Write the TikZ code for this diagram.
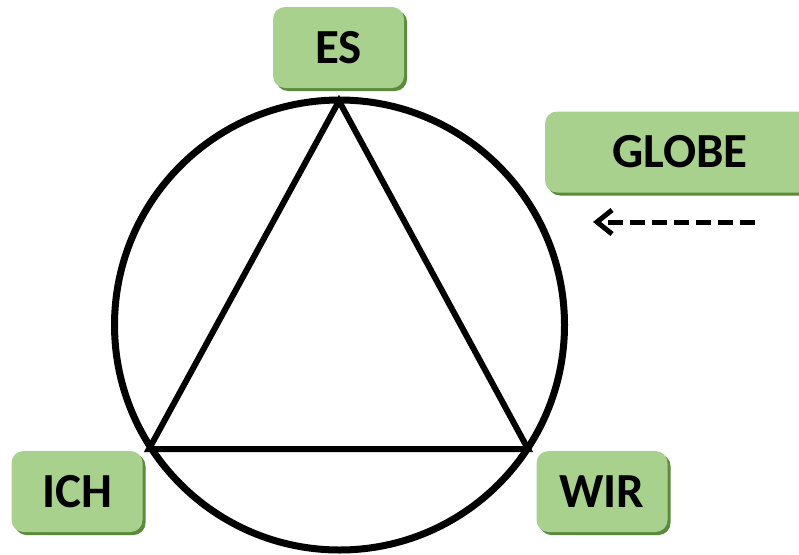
\documentclass[tikz,border=0pt]{standalone}
\usepackage{fontspec}
\setmainfont{Carlito}
\usetikzlibrary{arrows.meta,shadows}

\definecolor{kastengruen}{HTML}{A9D18E}
\definecolor{schattengruen}{HTML}{5A8A3A}

\begin{document}
\begin{tikzpicture}[
  x=1pt, y=-1pt, % Pixelkoordinaten, y nach unten
  font=\fontsize{49}{54}\bfseries\selectfont,
  kasten/.style={fill=kastengruen, rounded corners=12pt, inner sep=0pt,
    minimum width=131pt, minimum height=81pt,
    drop shadow={shadow xshift=3pt, shadow yshift=-3pt, fill=schattengruen, opacity=1}}
  ]
\useasboundingbox (0,0) rectangle (799,554);
\clip (0,0) rectangle (799,554);
% Kreis mit Dreieck
\coordinate (m) at (339.5,325);
\draw[line width=7pt] (m) circle (225);
\coordinate (oben) at (339,101);
\coordinate (links) at (149,449);
\coordinate (rechts) at (528,449);
\draw[line width=6pt, line join=miter] (oben) -- (rechts) -- (links) -- cycle;
% Beschriftungen
\node[kasten] (es) at (338.5,47.5) {ES};
\node[kasten] (ich) at (77,491.5) {ICH};
\node[kasten] (wir) at (602,491.5) {WIR};
\node[kasten, minimum width=270pt] (globe) at (680,152) {GLOBE};
% Pfeil
\coordinate (pfeilA) at (755,222);
\coordinate (pfeilB) at (593,222);
\draw[line width=5pt, dash pattern=on 15pt off 7pt, -{Straight Barb[length=15pt,width=24pt]}]
  (pfeilA) -- (pfeilB);
\end{tikzpicture}
\end{document}
